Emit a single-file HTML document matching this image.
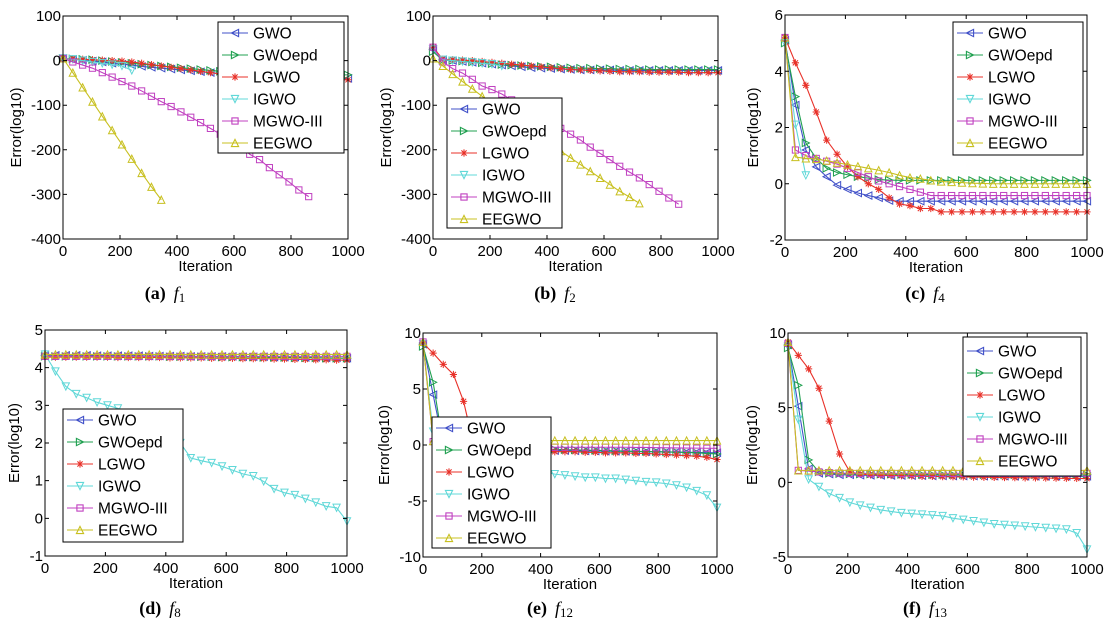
<!DOCTYPE html>
<html><head><meta charset="utf-8"><style>
body{margin:0;background:#fff;}
svg{display:block;font-family:"Liberation Sans",Arial,sans-serif;}
.tl{font-size:15px;fill:#000;}
.lt{font-size:15.5px;fill:#000;}
.cap{font-family:"Liberation Serif",serif;font-size:18px;fill:#000;}
.sl{fill:none;stroke-width:1.1;vector-effect:non-scaling-stroke;}
</style></head><body>
<svg id="fig" width="1111" height="628" viewBox="0 0 1111 628">
<defs>
<g id="m-left" fill="none" stroke-width="1"><polygon points="-3.6,0 3.6,-3.6 3.6,3.6"/></g>
<g id="m-right" fill="none" stroke-width="1"><polygon points="3.6,0 -3.6,-3.6 -3.6,3.6"/></g>
<g id="m-star" fill="none" stroke-width="1"><path d="M-3.6,0H3.6M0,-3.6V3.6M-2.6,-2.6L2.6,2.6M-2.6,2.6L2.6,-2.6"/></g>
<g id="m-down" fill="none" stroke-width="1"><polygon points="-3.6,-3.6 3.6,-3.6 0,3.6"/></g>
<g id="m-square" fill="none" stroke-width="1"><rect x="-3.1" y="-3.1" width="6.2" height="6.2"/></g>
<g id="m-up" fill="none" stroke-width="1"><polygon points="-3.6,3.6 3.6,3.6 0,-3.6"/></g>

<marker id="ma0" markerUnits="userSpaceOnUse" overflow="visible" markerWidth="10" markerHeight="10"><use href="#m-left" stroke="#4050c8" transform="scale(0.10175,-2.2422)"/></marker>
<marker id="ma1" markerUnits="userSpaceOnUse" overflow="visible" markerWidth="10" markerHeight="10"><use href="#m-right" stroke="#20a050" transform="scale(0.10175,-2.2422)"/></marker>
<marker id="ma2" markerUnits="userSpaceOnUse" overflow="visible" markerWidth="10" markerHeight="10"><use href="#m-star" stroke="#e83028" transform="scale(0.10175,-2.2422)"/></marker>
<marker id="ma3" markerUnits="userSpaceOnUse" overflow="visible" markerWidth="10" markerHeight="10"><use href="#m-down" stroke="#60d8d8" transform="scale(0.10175,-2.2422)"/></marker>
<marker id="ma4" markerUnits="userSpaceOnUse" overflow="visible" markerWidth="10" markerHeight="10"><use href="#m-square" stroke="#c040c0" transform="scale(0.10175,-2.2422)"/></marker>
<marker id="ma5" markerUnits="userSpaceOnUse" overflow="visible" markerWidth="10" markerHeight="10"><use href="#m-up" stroke="#c8c020" transform="scale(0.10175,-2.2422)"/></marker>

<marker id="mc0" markerUnits="userSpaceOnUse" overflow="visible" markerWidth="10" markerHeight="10"><use href="#m-left" stroke="#4050c8" transform="scale(0.096026,-0.035556)"/></marker>
<marker id="mc1" markerUnits="userSpaceOnUse" overflow="visible" markerWidth="10" markerHeight="10"><use href="#m-right" stroke="#20a050" transform="scale(0.096026,-0.035556)"/></marker>
<marker id="mc2" markerUnits="userSpaceOnUse" overflow="visible" markerWidth="10" markerHeight="10"><use href="#m-star" stroke="#e83028" transform="scale(0.096026,-0.035556)"/></marker>
<marker id="mc3" markerUnits="userSpaceOnUse" overflow="visible" markerWidth="10" markerHeight="10"><use href="#m-down" stroke="#60d8d8" transform="scale(0.096026,-0.035556)"/></marker>
<marker id="mc4" markerUnits="userSpaceOnUse" overflow="visible" markerWidth="10" markerHeight="10"><use href="#m-square" stroke="#c040c0" transform="scale(0.096026,-0.035556)"/></marker>
<marker id="mc5" markerUnits="userSpaceOnUse" overflow="visible" markerWidth="10" markerHeight="10"><use href="#m-up" stroke="#c8c020" transform="scale(0.096026,-0.035556)"/></marker>

<marker id="md0" markerUnits="userSpaceOnUse" overflow="visible" markerWidth="10" markerHeight="10"><use href="#m-left" stroke="#4050c8" transform="scale(0.096026,-0.026549)"/></marker>
<marker id="md1" markerUnits="userSpaceOnUse" overflow="visible" markerWidth="10" markerHeight="10"><use href="#m-right" stroke="#20a050" transform="scale(0.096026,-0.026549)"/></marker>
<marker id="md2" markerUnits="userSpaceOnUse" overflow="visible" markerWidth="10" markerHeight="10"><use href="#m-star" stroke="#e83028" transform="scale(0.096026,-0.026549)"/></marker>
<marker id="md3" markerUnits="userSpaceOnUse" overflow="visible" markerWidth="10" markerHeight="10"><use href="#m-down" stroke="#60d8d8" transform="scale(0.096026,-0.026549)"/></marker>
<marker id="md4" markerUnits="userSpaceOnUse" overflow="visible" markerWidth="10" markerHeight="10"><use href="#m-square" stroke="#c040c0" transform="scale(0.096026,-0.026549)"/></marker>
<marker id="md5" markerUnits="userSpaceOnUse" overflow="visible" markerWidth="10" markerHeight="10"><use href="#m-up" stroke="#c8c020" transform="scale(0.096026,-0.026549)"/></marker>

<marker id="me0" markerUnits="userSpaceOnUse" overflow="visible" markerWidth="10" markerHeight="10"><use href="#m-left" stroke="#4050c8" transform="scale(0.098639,-0.089286)"/></marker>
<marker id="me1" markerUnits="userSpaceOnUse" overflow="visible" markerWidth="10" markerHeight="10"><use href="#m-right" stroke="#20a050" transform="scale(0.098639,-0.089286)"/></marker>
<marker id="me2" markerUnits="userSpaceOnUse" overflow="visible" markerWidth="10" markerHeight="10"><use href="#m-star" stroke="#e83028" transform="scale(0.098639,-0.089286)"/></marker>
<marker id="me3" markerUnits="userSpaceOnUse" overflow="visible" markerWidth="10" markerHeight="10"><use href="#m-down" stroke="#60d8d8" transform="scale(0.098639,-0.089286)"/></marker>
<marker id="me4" markerUnits="userSpaceOnUse" overflow="visible" markerWidth="10" markerHeight="10"><use href="#m-square" stroke="#c040c0" transform="scale(0.098639,-0.089286)"/></marker>
<marker id="me5" markerUnits="userSpaceOnUse" overflow="visible" markerWidth="10" markerHeight="10"><use href="#m-up" stroke="#c8c020" transform="scale(0.098639,-0.089286)"/></marker>

<marker id="mf0" markerUnits="userSpaceOnUse" overflow="visible" markerWidth="10" markerHeight="10"><use href="#m-left" stroke="#4050c8" transform="scale(0.09699,-0.066964)"/></marker>
<marker id="mf1" markerUnits="userSpaceOnUse" overflow="visible" markerWidth="10" markerHeight="10"><use href="#m-right" stroke="#20a050" transform="scale(0.09699,-0.066964)"/></marker>
<marker id="mf2" markerUnits="userSpaceOnUse" overflow="visible" markerWidth="10" markerHeight="10"><use href="#m-star" stroke="#e83028" transform="scale(0.09699,-0.066964)"/></marker>
<marker id="mf3" markerUnits="userSpaceOnUse" overflow="visible" markerWidth="10" markerHeight="10"><use href="#m-down" stroke="#60d8d8" transform="scale(0.09699,-0.066964)"/></marker>
<marker id="mf4" markerUnits="userSpaceOnUse" overflow="visible" markerWidth="10" markerHeight="10"><use href="#m-square" stroke="#c040c0" transform="scale(0.09699,-0.066964)"/></marker>
<marker id="mf5" markerUnits="userSpaceOnUse" overflow="visible" markerWidth="10" markerHeight="10"><use href="#m-up" stroke="#c8c020" transform="scale(0.09699,-0.066964)"/></marker>
</defs>

<g>
<g id="series-a" transform="matrix(9.8276,0,0,-0.446,63,60.6)">
<polyline id="pl-a0" class="sl" stroke="#4050c8" marker-start="url(#ma0)" marker-mid="url(#ma0)" marker-end="url(#ma0)" points="0,5 1,3 2,1 3,-1 4,-3 5,-6 6,-8 7,-10 8,-13 9,-15 10,-17 11,-19 12,-21 13,-23 14,-25 15,-27 16,-29 17,-31 18,-33 19,-34 20,-35 21,-36 22,-37 23,-37 24,-38 25,-38 26,-39 27,-39 28,-40 29,-40"/>
<polyline id="pl-a1" class="sl" stroke="#20a050" marker-start="url(#ma1)" marker-mid="url(#ma1)" marker-end="url(#ma1)" points="0,5 1,4 2,3 3,2 4,0 5,-2 6,-4 7,-6 8,-8 9,-10 10,-12 11,-14 12,-16 13,-18 14,-20 15,-22 16,-24 17,-25 18,-26 19,-27 20,-28 21,-29 22,-30 23,-30 24,-31 25,-31 26,-32 27,-32 28,-32 29,-32"/>
<polyline id="pl-a2" class="sl" stroke="#e83028" marker-start="url(#ma2)" marker-mid="url(#ma2)" marker-end="url(#ma2)" points="0,5 1,4 2,3 3,2 4,1 5,0 6,-1 7,-3 8,-6 9,-9 10,-12 11,-15 12,-18 13,-21 14,-24 15,-27 16,-30 17,-32 18,-34 19,-36 20,-37 21,-38 22,-39 23,-40 24,-41 25,-42 26,-42 27,-43 28,-43 29,-43"/>
<polyline id="pl-a3" class="sl" stroke="#60d8d8" marker-start="url(#ma3)" marker-mid="url(#ma3)" marker-end="url(#ma3)" points="0,5 1,3 2,0 3,-3 4,-6 5,-9 6,-12 7,-22"/>
<polyline id="pl-a4" class="sl" stroke="#c040c0" marker-start="url(#ma4)" marker-mid="url(#ma4)" marker-end="url(#ma4)" points="0,5 1,-3 2,-10 3,-17 4,-27 5,-37 6,-47 7,-57 8,-68 9,-80 10,-92 11,-103 12,-115 13,-127 14,-139 15,-152 16,-165 17,-178 18,-190 19,-210 20,-222 21,-240 22,-256 23,-272 24,-290 25,-305"/>
<polyline id="pl-a5" class="sl" stroke="#c8c020" marker-start="url(#ma5)" marker-mid="url(#ma5)" marker-end="url(#ma5)" points="0,5 1,-27 2,-60 3,-92 4,-125 5,-156 6,-188 7,-220 8,-252 9,-283 10,-312"/>
</g>
<path stroke="#000" fill="none" d="M63,239V235M63,16V20M120,239V235M120,16V20M177,239V235M177,16V20M234,239V235M234,16V20M291,239V235M291,16V20M348,239V235M348,16V20M63,16H67M348,16H344M63,60.6H67M348,60.6H344M63,105.2H67M348,105.2H344M63,149.8H67M348,149.8H344M63,194.4H67M348,194.4H344M63,239H67M348,239H344"/>
<rect x="63" y="16" width="285" height="223" fill="none" stroke="#000"/>
<g class="tl" text-anchor="middle"><text x="63" y="256">0</text><text x="120" y="256">200</text><text x="177" y="256">400</text><text x="234" y="256">600</text><text x="291" y="256">800</text><text x="348" y="256">1000</text></g>
<g class="tl" text-anchor="end"><text x="61" y="21">100</text><text x="61" y="65.6">0</text><text x="61" y="110.2">-100</text><text x="61" y="154.8">-200</text><text x="61" y="199.4">-300</text><text x="61" y="244">-400</text></g>
<text class="tl" x="205.5" y="271" text-anchor="middle">Iteration</text>
<text class="tl" x="16" y="132.5" text-anchor="middle" transform="rotate(-90 16 127.5)">Error(log10)</text>
<g transform="translate(218,22)">
<rect x="0" y="0" width="126" height="131" fill="#fff" stroke="#000"/>
<g fill="none" stroke-width="1.1">
<line x1="4" y1="11" x2="30" y2="11" stroke="#4050c8"/><polygon points="13.4,11 20.6,7.4 20.6,14.6" stroke="#4050c8"/>
<line x1="4" y1="33" x2="30" y2="33" stroke="#20a050"/><polygon points="20.6,33 13.4,29.4 13.4,36.6" stroke="#20a050"/>
<line x1="4" y1="55" x2="30" y2="55" stroke="#e83028"/><path d="M13.4,55H20.6M17,51.4V58.6M14.4,52.4L19.6,57.6M14.4,57.6L19.6,52.4" stroke="#e83028"/>
<line x1="4" y1="77" x2="30" y2="77" stroke="#60d8d8"/><polygon points="13.4,73.4 20.6,73.4 17,80.6" stroke="#60d8d8"/>
<line x1="4" y1="99" x2="30" y2="99" stroke="#c040c0"/><rect x="13.9" y="95.9" width="6.2" height="6.2" stroke="#c040c0"/>
<line x1="4" y1="121" x2="30" y2="121" stroke="#c8c020"/><polygon points="13.4,124.6 20.6,124.6 17,117.4" stroke="#c8c020"/>
</g>
<g class="lt"><text x="35" y="16.5">GWO</text><text x="35" y="38.5">GWOepd</text><text x="35" y="60.5">LGWO</text><text x="35" y="82.5">IGWO</text><text x="35" y="104.5">MGWO-III</text><text x="35" y="126.5">EEGWO</text></g>
</g>
<text class="cap" x="165" y="299" text-anchor="middle"><tspan font-weight="bold">(a)</tspan><tspan font-style="italic" dx="8">f</tspan><tspan font-size="13" dy="3">1</tspan></text>
</g>

<g>
<g id="series-b" transform="matrix(9.8276,0,0,-0.446,433,60.6)">
<polyline id="pl-b0" class="sl" stroke="#4050c8" marker-start="url(#ma0)" marker-mid="url(#ma0)" marker-end="url(#ma0)" points="0,25 1,2 2,0 3,-2 4,-4 5,-6 6,-8 7,-10 8,-12 9,-14 10,-16 11,-17 12,-18 13,-19 14,-20 15,-21 16,-21 17,-21 18,-21 19,-22 20,-22 21,-22 22,-22 23,-22 24,-22 25,-22 26,-22 27,-22 28,-22 29,-22"/>
<polyline id="pl-b1" class="sl" stroke="#20a050" marker-start="url(#ma1)" marker-mid="url(#ma1)" marker-end="url(#ma1)" points="0,20 1,1 2,0 3,-1 4,-3 5,-5 6,-7 7,-9 8,-10 9,-11 10,-12 11,-13 12,-14 13,-15 14,-16 15,-17 16,-17 17,-18 18,-18 19,-19 20,-19 21,-19 22,-20 23,-20 24,-20 25,-20 26,-20 27,-20 28,-20 29,-20"/>
<polyline id="pl-b2" class="sl" stroke="#e83028" marker-start="url(#ma2)" marker-mid="url(#ma2)" marker-end="url(#ma2)" points="0,30 1,3 2,2 3,1 4,0 5,-2 6,-4 7,-6 8,-8 9,-10 10,-12 11,-14 12,-16 13,-18 14,-20 15,-21 16,-22 17,-23 18,-24 19,-25 20,-25 21,-25 22,-26 23,-26 24,-26 25,-26 26,-27 27,-27 28,-27 29,-27"/>
<polyline id="pl-b3" class="sl" stroke="#60d8d8" marker-start="url(#ma3)" marker-mid="url(#ma3)" marker-end="url(#ma3)" points="0,25 1,2 2,0 3,-2 4,-4 5,-6 6,-8 7,-12"/>
<polyline id="pl-b4" class="sl" stroke="#c040c0" marker-start="url(#ma4)" marker-mid="url(#ma4)" marker-end="url(#ma4)" points="0,30 1,-3 2,-18 3,-28 4,-42 5,-57 6,-65 7,-75 8,-88 9,-101 10,-114 11,-127 12,-140 13,-152 14,-165 15,-178 16,-194 17,-208 18,-222 19,-237 20,-250 21,-263 22,-278 23,-293 24,-308 25,-322"/>
<polyline id="pl-b5" class="sl" stroke="#c8c020" marker-start="url(#ma5)" marker-mid="url(#ma5)" marker-end="url(#ma5)" points="0,5 1,-12 2,-30 3,-47 4,-63 5,-80 6,-95 7,-110 8,-125 9,-140 10,-155 11,-170 12,-187 13,-203 14,-218 15,-233 16,-248 17,-263 18,-278 19,-293 20,-306 21,-320"/>
</g>
<path stroke="#000" fill="none" d="M433,239V235M433,16V20M490,239V235M490,16V20M547,239V235M547,16V20M604,239V235M604,16V20M661,239V235M661,16V20M718,239V235M718,16V20M433,16H437M718,16H714M433,60.6H437M718,60.6H714M433,105.2H437M718,105.2H714M433,149.8H437M718,149.8H714M433,194.4H437M718,194.4H714M433,239H437M718,239H714"/>
<rect x="433" y="16" width="285" height="223" fill="none" stroke="#000"/>
<g class="tl" text-anchor="middle"><text x="433" y="256">0</text><text x="490" y="256">200</text><text x="547" y="256">400</text><text x="604" y="256">600</text><text x="661" y="256">800</text><text x="718" y="256">1000</text></g>
<g class="tl" text-anchor="end"><text x="431" y="21">100</text><text x="431" y="65.6">0</text><text x="431" y="110.2">-100</text><text x="431" y="154.8">-200</text><text x="431" y="199.4">-300</text><text x="431" y="244">-400</text></g>
<text class="tl" x="575.5" y="271" text-anchor="middle">Iteration</text>
<text class="tl" x="386" y="132.5" text-anchor="middle" transform="rotate(-90 386 127.5)">Error(log10)</text>
<g transform="translate(447,98)">
<rect x="0" y="0" width="115" height="130" fill="#fff" stroke="#000"/>
<g fill="none" stroke-width="1.1">
<line x1="4" y1="11" x2="30" y2="11" stroke="#4050c8"/><polygon points="13.4,11 20.6,7.4 20.6,14.6" stroke="#4050c8"/>
<line x1="4" y1="33" x2="30" y2="33" stroke="#20a050"/><polygon points="20.6,33 13.4,29.4 13.4,36.6" stroke="#20a050"/>
<line x1="4" y1="55" x2="30" y2="55" stroke="#e83028"/><path d="M13.4,55H20.6M17,51.4V58.6M14.4,52.4L19.6,57.6M14.4,57.6L19.6,52.4" stroke="#e83028"/>
<line x1="4" y1="77" x2="30" y2="77" stroke="#60d8d8"/><polygon points="13.4,73.4 20.6,73.4 17,80.6" stroke="#60d8d8"/>
<line x1="4" y1="99" x2="30" y2="99" stroke="#c040c0"/><rect x="13.9" y="95.9" width="6.2" height="6.2" stroke="#c040c0"/>
<line x1="4" y1="121" x2="30" y2="121" stroke="#c8c020"/><polygon points="13.4,124.6 20.6,124.6 17,117.4" stroke="#c8c020"/>
</g>
<g class="lt"><text x="35" y="16.5">GWO</text><text x="35" y="38.5">GWOepd</text><text x="35" y="60.5">LGWO</text><text x="35" y="82.5">IGWO</text><text x="35" y="104.5">MGWO-III</text><text x="35" y="126.5">EEGWO</text></g>
</g>
<text class="cap" x="555" y="299" text-anchor="middle"><tspan font-weight="bold">(b)</tspan><tspan font-style="italic" dx="8">f</tspan><tspan font-size="13" dy="3">2</tspan></text>
</g>

<g>
<g id="series-c" transform="matrix(10.4138,0,0,-28.125,785,183.75)">
<polyline id="pl-c0" class="sl" stroke="#4050c8" marker-start="url(#mc0)" marker-mid="url(#mc0)" marker-end="url(#mc0)" points="0,5.1 1,2.8 2,1.2 3,0.6 4,0.25 5,-0.05 6,-0.2 7,-0.33 8,-0.42 9,-0.5 10,-0.6 11,-0.62 12,-0.62 13,-0.62 14,-0.62 15,-0.62 16,-0.62 17,-0.62 18,-0.62 19,-0.62 20,-0.62 21,-0.62 22,-0.62 23,-0.62 24,-0.62 25,-0.62 26,-0.62 27,-0.62 28,-0.62 29,-0.62"/>
<polyline id="pl-c1" class="sl" stroke="#20a050" marker-start="url(#mc1)" marker-mid="url(#mc1)" marker-end="url(#mc1)" points="0,5 1,3.1 2,1.45 3,0.9 4,0.55 5,0.4 6,0.32 7,0.25 8,0.2 9,0.15 10,0.13 11,0.12 12,0.12 13,0.12 14,0.12 15,0.12 16,0.12 17,0.12 18,0.12 19,0.12 20,0.12 21,0.12 22,0.12 23,0.12 24,0.12 25,0.12 26,0.12 27,0.12 28,0.12 29,0.12"/>
<polyline id="pl-c2" class="sl" stroke="#e83028" marker-start="url(#mc2)" marker-mid="url(#mc2)" marker-end="url(#mc2)" points="0,5.2 1,4.3 2,3.5 3,2.55 4,1.55 5,1.05 6,0.6 7,0.25 8,0 9,-0.2 10,-0.5 11,-0.72 12,-0.78 13,-0.88 14,-0.88 15,-1 16,-1 17,-1 18,-1 19,-1 20,-1 21,-1 22,-1 23,-1 24,-1 25,-1 26,-1 27,-1 28,-1 29,-1"/>
<polyline id="pl-c3" class="sl" stroke="#60d8d8" marker-start="url(#mc3)" marker-mid="url(#mc3)" marker-end="url(#mc3)" points="0,5 1,2.1 2,0.3"/>
<polyline id="pl-c4" class="sl" stroke="#c040c0" marker-start="url(#mc4)" marker-mid="url(#mc4)" marker-end="url(#mc4)" points="0,5.2 1,1.2 2,1 3,0.9 4,0.8 5,0.7 6,0.55 7,0.4 8,0.25 9,0.1 10,0 11,-0.1 12,-0.2 13,-0.3 14,-0.42 15,-0.42 16,-0.42 17,-0.42 18,-0.42 19,-0.42 20,-0.42 21,-0.42 22,-0.42 23,-0.42 24,-0.42 25,-0.42 26,-0.42 27,-0.42 28,-0.42 29,-0.42"/>
<polyline id="pl-c5" class="sl" stroke="#c8c020" marker-start="url(#mc5)" marker-mid="url(#mc5)" marker-end="url(#mc5)" points="0,5.2 1,0.95 2,0.9 3,0.88 4,0.82 5,0.75 6,0.68 7,0.62 8,0.55 9,0.48 10,0.4 11,0.3 12,0.22 13,0.18 14,0.12 15,0.08 16,0.06 17,0.04 18,0.02 19,0.01 20,0 21,0 22,0 23,0 24,0 25,0 26,0 27,0 28,0 29,0"/>
</g>
<path stroke="#000" fill="none" d="M785,240V236M785,15V19M845.4,240V236M845.4,15V19M905.8,240V236M905.8,15V19M966.2,240V236M966.2,15V19M1026.6,240V236M1026.6,15V19M1087,240V236M1087,15V19M785,15H789M1087,15H1083M785,71.25H789M1087,71.25H1083M785,127.5H789M1087,127.5H1083M785,183.75H789M1087,183.75H1083M785,240H789M1087,240H1083"/>
<rect x="785" y="15" width="302" height="225" fill="none" stroke="#000"/>
<g class="tl" text-anchor="middle"><text x="785" y="257">0</text><text x="845.4" y="257">200</text><text x="905.8" y="257">400</text><text x="966.2" y="257">600</text><text x="1026.6" y="257">800</text><text x="1087" y="257">1000</text></g>
<g class="tl" text-anchor="end"><text x="783" y="20">6</text><text x="783" y="76.25">4</text><text x="783" y="132.5">2</text><text x="783" y="188.75">0</text><text x="783" y="245">-2</text></g>
<text class="tl" x="936" y="272" text-anchor="middle">Iteration</text>
<text class="tl" x="753" y="132.5" text-anchor="middle" transform="rotate(-90 753 127.5)">Error(log10)</text>
<g transform="translate(953,22)">
<rect x="0" y="0" width="130" height="133" fill="#fff" stroke="#000"/>
<g fill="none" stroke-width="1.1">
<line x1="4" y1="11" x2="30" y2="11" stroke="#4050c8"/><polygon points="13.4,11 20.6,7.4 20.6,14.6" stroke="#4050c8"/>
<line x1="4" y1="33" x2="30" y2="33" stroke="#20a050"/><polygon points="20.6,33 13.4,29.4 13.4,36.6" stroke="#20a050"/>
<line x1="4" y1="55" x2="30" y2="55" stroke="#e83028"/><path d="M13.4,55H20.6M17,51.4V58.6M14.4,52.4L19.6,57.6M14.4,57.6L19.6,52.4" stroke="#e83028"/>
<line x1="4" y1="77" x2="30" y2="77" stroke="#60d8d8"/><polygon points="13.4,73.4 20.6,73.4 17,80.6" stroke="#60d8d8"/>
<line x1="4" y1="99" x2="30" y2="99" stroke="#c040c0"/><rect x="13.9" y="95.9" width="6.2" height="6.2" stroke="#c040c0"/>
<line x1="4" y1="121" x2="30" y2="121" stroke="#c8c020"/><polygon points="13.4,124.6 20.6,124.6 17,117.4" stroke="#c8c020"/>
</g>
<g class="lt"><text x="35" y="16.5">GWO</text><text x="35" y="38.5">GWOepd</text><text x="35" y="60.5">LGWO</text><text x="35" y="82.5">IGWO</text><text x="35" y="104.5">MGWO-III</text><text x="35" y="126.5">EEGWO</text></g>
</g>
<text class="cap" x="925" y="299" text-anchor="middle"><tspan font-weight="bold">(c)</tspan><tspan font-style="italic" dx="8">f</tspan><tspan font-size="13" dy="3">4</tspan></text>
</g>

<g>
<g id="series-d" transform="matrix(10.4138,0,0,-37.6667,45,518.333)">
<polyline id="pl-d0" class="sl" stroke="#4050c8" marker-start="url(#md0)" marker-mid="url(#md0)" marker-end="url(#md0)" points="0,4.33 1,4.33 2,4.33 3,4.33 4,4.33 5,4.32 6,4.32 7,4.32 8,4.32 9,4.32 10,4.31 11,4.31 12,4.31 13,4.31 14,4.3 15,4.3 16,4.3 17,4.3 18,4.3 19,4.29 20,4.29 21,4.29 22,4.28 23,4.28 24,4.28 25,4.27 26,4.27 27,4.26 28,4.26 29,4.25"/>
<polyline id="pl-d1" class="sl" stroke="#20a050" marker-start="url(#md1)" marker-mid="url(#md1)" marker-end="url(#md1)" points="0,4.3 1,4.3 2,4.3 3,4.3 4,4.3 5,4.3 6,4.3 7,4.3 8,4.3 9,4.3 10,4.3 11,4.3 12,4.29 13,4.29 14,4.29 15,4.29 16,4.29 17,4.28 18,4.28 19,4.28 20,4.28 21,4.27 22,4.27 23,4.27 24,4.26 25,4.26 26,4.26 27,4.25 28,4.25 29,4.25"/>
<polyline id="pl-d2" class="sl" stroke="#e83028" marker-start="url(#md2)" marker-mid="url(#md2)" marker-end="url(#md2)" points="0,4.28 1,4.28 2,4.28 3,4.28 4,4.28 5,4.28 6,4.28 7,4.27 8,4.27 9,4.27 10,4.27 11,4.27 12,4.26 13,4.26 14,4.26 15,4.26 16,4.25 17,4.25 18,4.25 19,4.24 20,4.24 21,4.24 22,4.23 23,4.23 24,4.22 25,4.22 26,4.21 27,4.21 28,4.2 29,4.2"/>
<polyline id="pl-d3" class="sl" stroke="#60d8d8" marker-start="url(#md3)" marker-mid="url(#md3)" marker-end="url(#md3)" points="0,4.35 1,3.9 2,3.5 3,3.3 4,3.2 5,3.08 6,3 7,2.92 8,2.78 9,2.62 10,2.46 11,2.3 12,2.15 13,2 14,1.6 15,1.53 16,1.47 17,1.38 18,1.28 19,1.18 20,1.12 21,0.98 22,0.78 23,0.68 24,0.62 25,0.52 26,0.42 27,0.32 28,0.28 29,-0.08"/>
<polyline id="pl-d4" class="sl" stroke="#c040c0" marker-start="url(#md4)" marker-mid="url(#md4)" marker-end="url(#md4)" points="0,4.3 1,4.3 2,4.3 3,4.3 4,4.3 5,4.3 6,4.3 7,4.3 8,4.3 9,4.3 10,4.3 11,4.3 12,4.3 13,4.3 14,4.3 15,4.3 16,4.3 17,4.3 18,4.3 19,4.3 20,4.3 21,4.3 22,4.3 23,4.3 24,4.3 25,4.3 26,4.3 27,4.3 28,4.3 29,4.3"/>
<polyline id="pl-d5" class="sl" stroke="#c8c020" marker-start="url(#md5)" marker-mid="url(#md5)" marker-end="url(#md5)" points="0,4.35 1,4.35 2,4.35 3,4.35 4,4.35 5,4.35 6,4.35 7,4.35 8,4.35 9,4.35 10,4.35 11,4.35 12,4.35 13,4.35 14,4.35 15,4.35 16,4.35 17,4.35 18,4.35 19,4.35 20,4.35 21,4.35 22,4.35 23,4.35 24,4.35 25,4.35 26,4.35 27,4.35 28,4.35 29,4.35"/>
</g>
<path stroke="#000" fill="none" d="M45,556V552M45,330V334M105.4,556V552M105.4,330V334M165.8,556V552M165.8,330V334M226.2,556V552M226.2,330V334M286.6,556V552M286.6,330V334M347,556V552M347,330V334M45,330H49M347,330H343M45,367.67H49M347,367.67H343M45,405.33H49M347,405.33H343M45,443H49M347,443H343M45,480.67H49M347,480.67H343M45,518.33H49M347,518.33H343M45,556H49M347,556H343"/>
<rect x="45" y="330" width="302" height="226" fill="none" stroke="#000"/>
<g class="tl" text-anchor="middle"><text x="45" y="573">0</text><text x="105.4" y="573">200</text><text x="165.8" y="573">400</text><text x="226.2" y="573">600</text><text x="286.6" y="573">800</text><text x="347" y="573">1000</text></g>
<g class="tl" text-anchor="end"><text x="43" y="335">5</text><text x="43" y="372.67">4</text><text x="43" y="410.33">3</text><text x="43" y="448">2</text><text x="43" y="485.67">1</text><text x="43" y="523.33">0</text><text x="43" y="561">-1</text></g>
<text class="tl" x="196" y="588" text-anchor="middle">Iteration</text>
<text class="tl" x="14" y="448" text-anchor="middle" transform="rotate(-90 14 443)">Error(log10)</text>
<g transform="translate(63,409)">
<rect x="0" y="0" width="120" height="133" fill="#fff" stroke="#000"/>
<g fill="none" stroke-width="1.1">
<line x1="4" y1="11" x2="30" y2="11" stroke="#4050c8"/><polygon points="13.4,11 20.6,7.4 20.6,14.6" stroke="#4050c8"/>
<line x1="4" y1="33" x2="30" y2="33" stroke="#20a050"/><polygon points="20.6,33 13.4,29.4 13.4,36.6" stroke="#20a050"/>
<line x1="4" y1="55" x2="30" y2="55" stroke="#e83028"/><path d="M13.4,55H20.6M17,51.4V58.6M14.4,52.4L19.6,57.6M14.4,57.6L19.6,52.4" stroke="#e83028"/>
<line x1="4" y1="77" x2="30" y2="77" stroke="#60d8d8"/><polygon points="13.4,73.4 20.6,73.4 17,80.6" stroke="#60d8d8"/>
<line x1="4" y1="99" x2="30" y2="99" stroke="#c040c0"/><rect x="13.9" y="95.9" width="6.2" height="6.2" stroke="#c040c0"/>
<line x1="4" y1="121" x2="30" y2="121" stroke="#c8c020"/><polygon points="13.4,124.6 20.6,124.6 17,117.4" stroke="#c8c020"/>
</g>
<g class="lt"><text x="35" y="16.5">GWO</text><text x="35" y="38.5">GWOepd</text><text x="35" y="60.5">LGWO</text><text x="35" y="82.5">IGWO</text><text x="35" y="104.5">MGWO-III</text><text x="35" y="126.5">EEGWO</text></g>
</g>
<text class="cap" x="160" y="614" text-anchor="middle"><tspan font-weight="bold">(d)</tspan><tspan font-style="italic" dx="8">f</tspan><tspan font-size="13" dy="3">8</tspan></text>
</g>

<g>
<g id="series-e" transform="matrix(10.1379,0,0,-11.2,423,445)">
<polyline id="pl-e0" class="sl" stroke="#4050c8" marker-start="url(#me0)" marker-mid="url(#me0)" marker-end="url(#me0)" points="0,9 1,4.5 2,0 3,-0.3 4,-0.35 5,-0.4 6,-0.4 7,-0.42 8,-0.44 9,-0.45 10,-0.46 11,-0.47 12,-0.48 13,-0.5 14,-0.5 15,-0.52 16,-0.53 17,-0.54 18,-0.55 19,-0.56 20,-0.57 21,-0.58 22,-0.6 23,-0.6 24,-0.62 25,-0.63 26,-0.65 27,-0.66 28,-0.68 29,-0.7"/>
<polyline id="pl-e1" class="sl" stroke="#20a050" marker-start="url(#me1)" marker-mid="url(#me1)" marker-end="url(#me1)" points="0,8.8 1,5.6 2,0 3,-0.2 4,-0.22 5,-0.24 6,-0.26 7,-0.28 8,-0.3 9,-0.32 10,-0.34 11,-0.36 12,-0.38 13,-0.4 14,-0.42 15,-0.44 16,-0.46 17,-0.48 18,-0.5 19,-0.52 20,-0.54 21,-0.56 22,-0.58 23,-0.6 24,-0.62 25,-0.64 26,-0.67 27,-0.7 28,-0.75 29,-0.8"/>
<polyline id="pl-e2" class="sl" stroke="#e83028" marker-start="url(#me2)" marker-mid="url(#me2)" marker-end="url(#me2)" points="0,9.1 1,8.2 2,7.2 3,6.3 4,3.9 5,0 6,-0.3 7,-0.4 8,-0.45 9,-0.5 10,-0.5 11,-0.55 12,-0.55 13,-0.6 14,-0.6 15,-0.6 16,-0.65 17,-0.65 18,-0.7 19,-0.7 20,-0.7 21,-0.75 22,-0.75 23,-0.8 24,-0.85 25,-0.9 26,-0.95 27,-1 28,-1.1 29,-1.3"/>
<polyline id="pl-e3" class="sl" stroke="#60d8d8" marker-start="url(#me3)" marker-mid="url(#me3)" marker-end="url(#me3)" points="0,9 1,1.2 2,-0.5 3,-1 4,-1.3 5,-1.5 6,-1.7 7,-1.9 8,-2 9,-2.1 10,-2.2 11,-2.3 12,-2.4 13,-2.6 14,-2.7 15,-2.8 16,-2.9 17,-2.9 18,-3 19,-3 20,-3.1 21,-3.2 22,-3.3 23,-3.35 24,-3.45 25,-3.6 26,-3.8 27,-4.1 28,-4.5 29,-5.6"/>
<polyline id="pl-e4" class="sl" stroke="#c040c0" marker-start="url(#me4)" marker-mid="url(#me4)" marker-end="url(#me4)" points="0,9.2 1,0.3 2,-0.1 3,-0.15 4,-0.18 5,-0.2 6,-0.2 7,-0.2 8,-0.2 9,-0.2 10,-0.2 11,-0.2 12,-0.2 13,-0.2 14,-0.2 15,-0.2 16,-0.2 17,-0.2 18,-0.2 19,-0.2 20,-0.2 21,-0.22 22,-0.22 23,-0.24 24,-0.25 25,-0.26 26,-0.27 27,-0.28 28,-0.29 29,-0.3"/>
<polyline id="pl-e5" class="sl" stroke="#c8c020" marker-start="url(#me5)" marker-mid="url(#me5)" marker-end="url(#me5)" points="0,9.2 1,0.35 2,0.4 3,0.4 4,0.4 5,0.4 6,0.4 7,0.4 8,0.4 9,0.4 10,0.4 11,0.4 12,0.4 13,0.4 14,0.4 15,0.4 16,0.4 17,0.4 18,0.4 19,0.4 20,0.4 21,0.4 22,0.4 23,0.4 24,0.4 25,0.4 26,0.4 27,0.4 28,0.4 29,0.4"/>
</g>
<path stroke="#000" fill="none" d="M423,557V553M423,333V337M481.8,557V553M481.8,333V337M540.6,557V553M540.6,333V337M599.4,557V553M599.4,333V337M658.2,557V553M658.2,333V337M717,557V553M717,333V337M423,333H427M717,333H713M423,389H427M717,389H713M423,445H427M717,445H713M423,501H427M717,501H713M423,557H427M717,557H713"/>
<rect x="423" y="333" width="294" height="224" fill="none" stroke="#000"/>
<g class="tl" text-anchor="middle"><text x="423" y="574">0</text><text x="481.8" y="574">200</text><text x="540.6" y="574">400</text><text x="599.4" y="574">600</text><text x="658.2" y="574">800</text><text x="717" y="574">1000</text></g>
<g class="tl" text-anchor="end"><text x="421" y="338">10</text><text x="421" y="394">5</text><text x="421" y="450">0</text><text x="421" y="506">-5</text><text x="421" y="562">-10</text></g>
<text class="tl" x="570" y="589" text-anchor="middle">Iteration</text>
<text class="tl" x="384" y="450" text-anchor="middle" transform="rotate(-90 384 445)">Error(log10)</text>
<g transform="translate(432,417)">
<rect x="0" y="0" width="119" height="131" fill="#fff" stroke="#000"/>
<g fill="none" stroke-width="1.1">
<line x1="4" y1="11" x2="30" y2="11" stroke="#4050c8"/><polygon points="13.4,11 20.6,7.4 20.6,14.6" stroke="#4050c8"/>
<line x1="4" y1="33" x2="30" y2="33" stroke="#20a050"/><polygon points="20.6,33 13.4,29.4 13.4,36.6" stroke="#20a050"/>
<line x1="4" y1="55" x2="30" y2="55" stroke="#e83028"/><path d="M13.4,55H20.6M17,51.4V58.6M14.4,52.4L19.6,57.6M14.4,57.6L19.6,52.4" stroke="#e83028"/>
<line x1="4" y1="77" x2="30" y2="77" stroke="#60d8d8"/><polygon points="13.4,73.4 20.6,73.4 17,80.6" stroke="#60d8d8"/>
<line x1="4" y1="99" x2="30" y2="99" stroke="#c040c0"/><rect x="13.9" y="95.9" width="6.2" height="6.2" stroke="#c040c0"/>
<line x1="4" y1="121" x2="30" y2="121" stroke="#c8c020"/><polygon points="13.4,124.6 20.6,124.6 17,117.4" stroke="#c8c020"/>
</g>
<g class="lt"><text x="35" y="16.5">GWO</text><text x="35" y="38.5">GWOepd</text><text x="35" y="60.5">LGWO</text><text x="35" y="82.5">IGWO</text><text x="35" y="104.5">MGWO-III</text><text x="35" y="126.5">EEGWO</text></g>
</g>
<text class="cap" x="550" y="614" text-anchor="middle"><tspan font-weight="bold">(e)</tspan><tspan font-style="italic" dx="8">f</tspan><tspan font-size="13" dy="3">12</tspan></text>
</g>

<g>
<g id="series-f" transform="matrix(10.3103,0,0,-14.9333,788,482.333)">
<polyline id="pl-f0" class="sl" stroke="#4050c8" marker-start="url(#mf0)" marker-mid="url(#mf0)" marker-end="url(#mf0)" points="0,9.2 1,5.1 2,0.9 3,0.6 4,0.55 5,0.5 6,0.5 7,0.48 8,0.47 9,0.46 10,0.45 11,0.45 12,0.44 13,0.44 14,0.43 15,0.43 16,0.42 17,0.42 18,0.42 19,0.41 20,0.41 21,0.41 22,0.4 23,0.4 24,0.4 25,0.4 26,0.4 27,0.4 28,0.4 29,0.4"/>
<polyline id="pl-f1" class="sl" stroke="#20a050" marker-start="url(#mf1)" marker-mid="url(#mf1)" marker-end="url(#mf1)" points="0,9 1,6.5 2,1.5 3,0.7 4,0.6 5,0.58 6,0.56 7,0.55 8,0.55 9,0.54 10,0.54 11,0.53 12,0.53 13,0.52 14,0.52 15,0.52 16,0.51 17,0.51 18,0.51 19,0.5 20,0.5 21,0.5 22,0.5 23,0.5 24,0.5 25,0.5 26,0.5 27,0.5 28,0.5 29,0.5"/>
<polyline id="pl-f2" class="sl" stroke="#e83028" marker-start="url(#mf2)" marker-mid="url(#mf2)" marker-end="url(#mf2)" points="0,9.4 1,8.5 2,7.6 3,6.3 4,4.1 5,1.9 6,0.7 7,0.55 8,0.5 9,0.48 10,0.46 11,0.44 12,0.42 13,0.4 14,0.4 15,0.38 16,0.37 17,0.36 18,0.35 19,0.34 20,0.33 21,0.32 22,0.31 23,0.3 24,0.3 25,0.29 26,0.28 27,0.27 28,0.26 29,0.25"/>
<polyline id="pl-f3" class="sl" stroke="#60d8d8" marker-start="url(#mf3)" marker-mid="url(#mf3)" marker-end="url(#mf3)" points="0,9.1 1,4.2 2,0.2 3,-0.3 4,-0.75 5,-1.05 6,-1.35 7,-1.55 8,-1.7 9,-1.85 10,-1.95 11,-2.05 12,-2.1 13,-2.15 14,-2.2 15,-2.25 16,-2.4 17,-2.5 18,-2.6 19,-2.7 20,-2.8 21,-2.85 22,-2.9 23,-2.95 24,-3 25,-3.05 26,-3.1 27,-3.15 28,-3.4 29,-4.5"/>
<polyline id="pl-f4" class="sl" stroke="#c040c0" marker-start="url(#mf4)" marker-mid="url(#mf4)" marker-end="url(#mf4)" points="0,9.3 1,0.8 2,0.75 3,0.7 4,0.65 5,0.62 6,0.6 7,0.6 8,0.6 9,0.6 10,0.6 11,0.6 12,0.6 13,0.6 14,0.6 15,0.6 16,0.6 17,0.6 18,0.6 19,0.6 20,0.6 21,0.6 22,0.6 23,0.6 24,0.6 25,0.6 26,0.6 27,0.6 28,0.6 29,0.6"/>
<polyline id="pl-f5" class="sl" stroke="#c8c020" marker-start="url(#mf5)" marker-mid="url(#mf5)" marker-end="url(#mf5)" points="0,9.4 1,0.8 2,0.8 3,0.8 4,0.8 5,0.8 6,0.8 7,0.8 8,0.8 9,0.8 10,0.8 11,0.8 12,0.8 13,0.8 14,0.8 15,0.8 16,0.8 17,0.8 18,0.8 19,0.8 20,0.8 21,0.8 22,0.8 23,0.8 24,0.8 25,0.8 26,0.8 27,0.8 28,0.8 29,0.8"/>
</g>
<path stroke="#000" fill="none" d="M788,557V553M788,333V337M847.8,557V553M847.8,333V337M907.6,557V553M907.6,333V337M967.4,557V553M967.4,333V337M1027.2,557V553M1027.2,333V337M1087,557V553M1087,333V337M788,333H792M1087,333H1083M788,407.67H792M1087,407.67H1083M788,482.33H792M1087,482.33H1083M788,557H792M1087,557H1083"/>
<rect x="788" y="333" width="299" height="224" fill="none" stroke="#000"/>
<g class="tl" text-anchor="middle"><text x="788" y="574">0</text><text x="847.8" y="574">200</text><text x="907.6" y="574">400</text><text x="967.4" y="574">600</text><text x="1027.2" y="574">800</text><text x="1087" y="574">1000</text></g>
<g class="tl" text-anchor="end"><text x="786" y="338">10</text><text x="786" y="412.67">5</text><text x="786" y="487.33">0</text><text x="786" y="562">-5</text></g>
<text class="tl" x="937.5" y="589" text-anchor="middle">Iteration</text>
<text class="tl" x="752" y="450" text-anchor="middle" transform="rotate(-90 752 445)">Error(log10)</text>
<g transform="translate(963,337)">
<rect x="0" y="0" width="118" height="139" fill="#fff" stroke="#000"/>
<g fill="none" stroke-width="1.1" transform="translate(0,3)">
<line x1="4" y1="11" x2="30" y2="11" stroke="#4050c8"/><polygon points="13.4,11 20.6,7.4 20.6,14.6" stroke="#4050c8"/>
<line x1="4" y1="33" x2="30" y2="33" stroke="#20a050"/><polygon points="20.6,33 13.4,29.4 13.4,36.6" stroke="#20a050"/>
<line x1="4" y1="55" x2="30" y2="55" stroke="#e83028"/><path d="M13.4,55H20.6M17,51.4V58.6M14.4,52.4L19.6,57.6M14.4,57.6L19.6,52.4" stroke="#e83028"/>
<line x1="4" y1="77" x2="30" y2="77" stroke="#60d8d8"/><polygon points="13.4,73.4 20.6,73.4 17,80.6" stroke="#60d8d8"/>
<line x1="4" y1="99" x2="30" y2="99" stroke="#c040c0"/><rect x="13.9" y="95.9" width="6.2" height="6.2" stroke="#c040c0"/>
<line x1="4" y1="121" x2="30" y2="121" stroke="#c8c020"/><polygon points="13.4,124.6 20.6,124.6 17,117.4" stroke="#c8c020"/>
</g>
<g class="lt" transform="translate(0,3)"><text x="35" y="16.5">GWO</text><text x="35" y="38.5">GWOepd</text><text x="35" y="60.5">LGWO</text><text x="35" y="82.5">IGWO</text><text x="35" y="104.5">MGWO-III</text><text x="35" y="126.5">EEGWO</text></g>
</g>
<text class="cap" x="925" y="614" text-anchor="middle"><tspan font-weight="bold">(f)</tspan><tspan font-style="italic" dx="8">f</tspan><tspan font-size="13" dy="3">13</tspan></text>
</g>
</svg>
<script>
var aGWO=[5,3,1,-1,-3,-6,-8,-10,-13,-15,-17,-19,-21,-23,-25,-27,-29,-31,-33,-34,-35,-36,-37,-37,-38,-38,-39,-39,-40,-40];
var aGWOepd=[5,4,3,2,0,-2,-4,-6,-8,-10,-12,-14,-16,-18,-20,-22,-24,-25,-26,-27,-28,-29,-30,-30,-31,-31,-32,-32,-32,-32];
var aLGWO=[5,4,3,2,1,0,-1,-3,-6,-9,-12,-15,-18,-21,-24,-27,-30,-32,-34,-36,-37,-38,-39,-40,-41,-42,-42,-43,-43,-43];
var aIGWO=[5,3,0,-3,-6,-9,-12,-22];
var aMGWO=[5,-3,-10,-17,-27,-37,-47,-57,-68,-80,-92,-103,-115,-127,-139,-152,-165,-178,-190,-210,-222,-240,-256,-272,-290,-305];
var aEEGWO=[5,-27,-60,-92,-125,-156,-188,-220,-252,-283,-312];
var bGWO=[25,2,0,-2,-4,-6,-8,-10,-12,-14,-16,-17,-18,-19,-20,-21,-21,-21,-21,-22,-22,-22,-22,-22,-22,-22,-22,-22,-22,-22];
var bGWOepd=[20,1,0,-1,-3,-5,-7,-9,-10,-11,-12,-13,-14,-15,-16,-17,-17,-18,-18,-19,-19,-19,-20,-20,-20,-20,-20,-20,-20,-20];
var bLGWO=[30,3,2,1,0,-2,-4,-6,-8,-10,-12,-14,-16,-18,-20,-21,-22,-23,-24,-25,-25,-25,-26,-26,-26,-26,-27,-27,-27,-27];
var bIGWO=[25,2,0,-2,-4,-6,-8,-12];
var bMGWO=[30,-3,-18,-28,-42,-57,-65,-75,-88,-101,-114,-127,-140,-152,-165,-178,-194,-208,-222,-237,-250,-263,-278,-293,-308,-322];
var bEEGWO=[5,-12,-30,-47,-63,-80,-95,-110,-125,-140,-155,-170,-187,-203,-218,-233,-248,-263,-278,-293,-306,-320];
var cGWO=[5.1,2.8,1.2,0.6,0.25,-0.05,-0.2,-0.33,-0.42,-0.5,-0.6,-0.62,-0.62,-0.62,-0.62,-0.62,-0.62,-0.62,-0.62,-0.62,-0.62,-0.62,-0.62,-0.62,-0.62,-0.62,-0.62,-0.62,-0.62,-0.62];
var cGWOepd=[5.0,3.1,1.45,0.9,0.55,0.4,0.32,0.25,0.2,0.15,0.13,0.12,0.12,0.12,0.12,0.12,0.12,0.12,0.12,0.12,0.12,0.12,0.12,0.12,0.12,0.12,0.12,0.12,0.12,0.12];
var cLGWO=[5.2,4.3,3.5,2.55,1.55,1.05,0.6,0.25,0.0,-0.2,-0.5,-0.72,-0.78,-0.88,-0.88,-1.0,-1.0,-1.0,-1.0,-1.0,-1.0,-1.0,-1.0,-1.0,-1.0,-1.0,-1.0,-1.0,-1.0,-1.0];
var cIGWO=[5.0,2.1,0.3];
var cMGWO=[5.2,1.2,1.0,0.9,0.8,0.7,0.55,0.4,0.25,0.1,0.0,-0.1,-0.2,-0.3,-0.42,-0.42,-0.42,-0.42,-0.42,-0.42,-0.42,-0.42,-0.42,-0.42,-0.42,-0.42,-0.42,-0.42,-0.42,-0.42];
var cEEGWO=[5.2,0.95,0.9,0.88,0.82,0.75,0.68,0.62,0.55,0.48,0.4,0.3,0.22,0.18,0.12,0.08,0.06,0.04,0.02,0.01,0,0,0,0,0,0,0,0,0,0];
var dGWO=[4.33,4.33,4.33,4.33,4.33,4.32,4.32,4.32,4.32,4.32,4.31,4.31,4.31,4.31,4.3,4.3,4.3,4.3,4.3,4.29,4.29,4.29,4.28,4.28,4.28,4.27,4.27,4.26,4.26,4.25];
var dGWOepd=[4.3,4.3,4.3,4.3,4.3,4.3,4.3,4.3,4.3,4.3,4.3,4.3,4.29,4.29,4.29,4.29,4.29,4.28,4.28,4.28,4.28,4.27,4.27,4.27,4.26,4.26,4.26,4.25,4.25,4.25];
var dLGWO=[4.28,4.28,4.28,4.28,4.28,4.28,4.28,4.27,4.27,4.27,4.27,4.27,4.26,4.26,4.26,4.26,4.25,4.25,4.25,4.24,4.24,4.24,4.23,4.23,4.22,4.22,4.21,4.21,4.2,4.2];
var dIGWO=[4.35,3.9,3.5,3.3,3.2,3.08,3.0,2.92,2.78,2.62,2.46,2.3,2.15,2.0,1.6,1.53,1.47,1.38,1.28,1.18,1.12,0.98,0.78,0.68,0.62,0.52,0.42,0.32,0.28,-0.08];
var dMGWO=[4.3,4.3,4.3,4.3,4.3,4.3,4.3,4.3,4.3,4.3,4.3,4.3,4.3,4.3,4.3,4.3,4.3,4.3,4.3,4.3,4.3,4.3,4.3,4.3,4.3,4.3,4.3,4.3,4.3,4.3];
var dEEGWO=[4.35,4.35,4.35,4.35,4.35,4.35,4.35,4.35,4.35,4.35,4.35,4.35,4.35,4.35,4.35,4.35,4.35,4.35,4.35,4.35,4.35,4.35,4.35,4.35,4.35,4.35,4.35,4.35,4.35,4.35];
var eGWO=[9,4.5,0,-0.3,-0.35,-0.4,-0.4,-0.42,-0.44,-0.45,-0.46,-0.47,-0.48,-0.5,-0.5,-0.52,-0.53,-0.54,-0.55,-0.56,-0.57,-0.58,-0.6,-0.6,-0.62,-0.63,-0.65,-0.66,-0.68,-0.7];
var eGWOepd=[8.8,5.6,0,-0.2,-0.22,-0.24,-0.26,-0.28,-0.3,-0.32,-0.34,-0.36,-0.38,-0.4,-0.42,-0.44,-0.46,-0.48,-0.5,-0.52,-0.54,-0.56,-0.58,-0.6,-0.62,-0.64,-0.67,-0.7,-0.75,-0.8];
var eLGWO=[9.1,8.2,7.2,6.3,3.9,0,-0.3,-0.4,-0.45,-0.5,-0.5,-0.55,-0.55,-0.6,-0.6,-0.6,-0.65,-0.65,-0.7,-0.7,-0.7,-0.75,-0.75,-0.8,-0.85,-0.9,-0.95,-1.0,-1.1,-1.3];
var eIGWO=[9,1.2,-0.5,-1,-1.3,-1.5,-1.7,-1.9,-2,-2.1,-2.2,-2.3,-2.4,-2.6,-2.7,-2.8,-2.9,-2.9,-3.0,-3.0,-3.1,-3.2,-3.3,-3.35,-3.45,-3.6,-3.8,-4.1,-4.5,-5.6];
var eMGWO=[9.2,0.3,-0.1,-0.15,-0.18,-0.2,-0.2,-0.2,-0.2,-0.2,-0.2,-0.2,-0.2,-0.2,-0.2,-0.2,-0.2,-0.2,-0.2,-0.2,-0.2,-0.22,-0.22,-0.24,-0.25,-0.26,-0.27,-0.28,-0.29,-0.3];
var eEEGWO=[9.2,0.35,0.4,0.4,0.4,0.4,0.4,0.4,0.4,0.4,0.4,0.4,0.4,0.4,0.4,0.4,0.4,0.4,0.4,0.4,0.4,0.4,0.4,0.4,0.4,0.4,0.4,0.4,0.4,0.4];
var fGWO=[9.2,5.1,0.9,0.6,0.55,0.5,0.5,0.48,0.47,0.46,0.45,0.45,0.44,0.44,0.43,0.43,0.42,0.42,0.42,0.41,0.41,0.41,0.4,0.4,0.4,0.4,0.4,0.4,0.4,0.4];
var fGWOepd=[9.0,6.5,1.5,0.7,0.6,0.58,0.56,0.55,0.55,0.54,0.54,0.53,0.53,0.52,0.52,0.52,0.51,0.51,0.51,0.5,0.5,0.5,0.5,0.5,0.5,0.5,0.5,0.5,0.5,0.5];
var fLGWO=[9.4,8.5,7.6,6.3,4.1,1.9,0.7,0.55,0.5,0.48,0.46,0.44,0.42,0.4,0.4,0.38,0.37,0.36,0.35,0.34,0.33,0.32,0.31,0.3,0.3,0.29,0.28,0.27,0.26,0.25];
var fIGWO=[9.1,4.2,0.2,-0.3,-0.75,-1.05,-1.35,-1.55,-1.7,-1.85,-1.95,-2.05,-2.1,-2.15,-2.2,-2.25,-2.4,-2.5,-2.6,-2.7,-2.8,-2.85,-2.9,-2.95,-3.0,-3.05,-3.1,-3.15,-3.4,-4.5];
var fMGWO=[9.3,0.8,0.75,0.7,0.65,0.62,0.6,0.6,0.6,0.6,0.6,0.6,0.6,0.6,0.6,0.6,0.6,0.6,0.6,0.6,0.6,0.6,0.6,0.6,0.6,0.6,0.6,0.6,0.6,0.6];
var fEEGWO=[9.4,0.8,0.8,0.8,0.8,0.8,0.8,0.8,0.8,0.8,0.8,0.8,0.8,0.8,0.8,0.8,0.8,0.8,0.8,0.8,0.8,0.8,0.8,0.8,0.8,0.8,0.8,0.8,0.8,0.8];
function syncSeries(){
 var all={a:[aGWO,aGWOepd,aLGWO,aIGWO,aMGWO,aEEGWO],b:[bGWO,bGWOepd,bLGWO,bIGWO,bMGWO,bEEGWO],c:[cGWO,cGWOepd,cLGWO,cIGWO,cMGWO,cEEGWO],d:[dGWO,dGWOepd,dLGWO,dIGWO,dMGWO,dEEGWO],e:[eGWO,eGWOepd,eLGWO,eIGWO,eMGWO,eEGWO],f:[fGWO,fGWOepd,fLGWO,fIGWO,fMGWO,fEEGWO]};
 for(var key in all){
  for(var s=0;s<all[key].length;s++){
   var el=document.getElementById('pl-'+key+s);
   if(!el)continue;
   var arr=all[key][s],pts=[];
   for(var i=0;i<arr.length;i++)pts.push(i+','+arr[i]);
   el.setAttribute('points',pts.join(' '));
  }
 }
}
try{syncSeries();}catch(e){}
</script>
</body></html>
